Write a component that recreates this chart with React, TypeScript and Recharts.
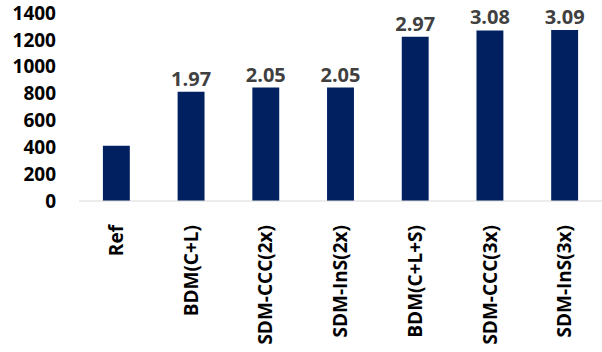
import { BarChart, Bar, XAxis, YAxis, LabelList } from 'recharts';

const categories = ['Ref', 'BDM(C+L)', 'SDM-CCC(2x)', 'SDM-InS(2x)', 'BDM(C+L+S)', 'SDM-CCC(3x)', 'SDM-InS(3x)'];
const values = [412, 814, 845, 845, 1223, 1270, 1273];
const ratios = ['', '1.97', '2.05', '2.05', '2.97', '3.08', '3.09'];
const yTicks = [0, 200, 400, 600, 800, 1000, 1200, 1400];

const data = categories.map((name, i) => ({ name, value: values[i], ratio: ratios[i] }));

const FONT = '"Open Sans", sans-serif';

const XTick = (props: any) => {
  const { x, y, payload } = props;
  return (
    <g transform={`translate(${x},${y})`}>
      <text
        x={-16}
        y={0}
        dy="0.35em"
        transform="rotate(-90)"
        textAnchor="end"
        fill="#000"
        fontFamily={FONT}
        fontWeight={700}
        fontSize={19}
      >
        {payload.value}
      </text>
    </g>
  );
};

export default function App() {
  return (
    <div style={{ position: 'absolute', left: 0, top: 0 }}>
      <BarChart
        width={602}
        height={352}
        data={data}
        margin={{ top: 13, right: 0, bottom: 0, left: 0 }}
        barCategoryGap="68%"
      >
        <XAxis
          dataKey="name"
          axisLine={{ stroke: '#d9d9d9' }}
          tickLine={false}
          interval={0}
          height={151}
          tick={<XTick />}
        />
        <YAxis
          domain={[0, 1400]}
          ticks={yTicks}
          interval={0}
          width={79}
          axisLine={false}
          tickLine={false}
          tickMargin={17}
          tick={{ fill: '#000', fontFamily: FONT, fontWeight: 700, fontSize: 19 }}
        />
        <Bar dataKey="value" fill="#002060" isAnimationActive={false}>
          <LabelList
            dataKey="ratio"
            position="top"
            offset={6}
            fill="#404040"
            fontFamily={FONT}
            fontWeight={700}
            fontSize={20}
          />
        </Bar>
      </BarChart>
    </div>
  );
}
